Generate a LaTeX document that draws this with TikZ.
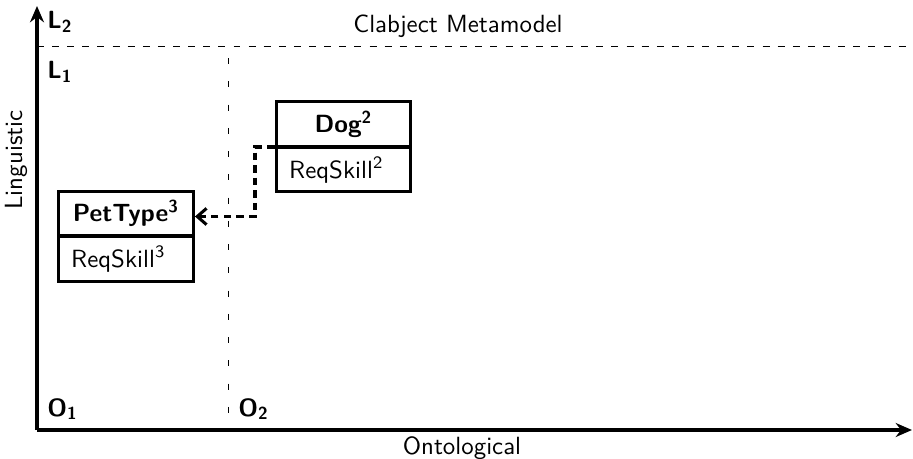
\documentclass[tikz,border=0pt]{standalone}
\usetikzlibrary{arrows.meta}
\usepackage{fixltx2e}
\renewcommand{\familydefault}{\sfdefault}
\newcommand{\myfs}{\fontsize{10.7}{13}\selectfont}
\begin{document}
\begin{tikzpicture}[x=0.43pt,y=-0.43pt,font=\sffamily\myfs,
  axis/.style={line width=1.3pt,-{Stealth[length=7pt,width=6pt]}},
  hdash/.style={line width=0.4pt,dash pattern=on 3pt off 3.5pt},
  vdash/.style={line width=0.4pt,dash pattern=on 2.6pt off 7.4pt},
  box/.style={draw,line width=1.3pt,minimum width=58pt,minimum height=38.3pt,inner sep=0pt},
  conn/.style={line width=1.3pt,dash pattern=on 3.2pt off 2.2pt,-{Straight Barb[length=4pt,width=7pt]}},
  lbl/.style={font=\sffamily\bfseries\myfs,inner sep=0pt}]
\useasboundingbox (0,0) rectangle (913,459);
\coordinate (orig) at (37,430);
\coordinate (ytip) at (37,6);
\coordinate (xtip) at (912,430);
\draw[axis] (orig) -- (ytip);
\draw[axis] (orig) -- (xtip);
\coordinate (h1) at (37,46);
\coordinate (h2) at (913,46);
\draw[hdash] (h1) -- (h2);
\coordinate (v1) at (228,58);
\coordinate (v2) at (228,430);
\draw[vdash] (v1) -- (v2);
\node[lbl,anchor=west] (l2) at (47,22) {L\textsubscript{2}};
\node[lbl,anchor=west] (l1) at (47,72) {L\textsubscript{1}};
\node[lbl,anchor=west] (o1) at (47,409) {O\textsubscript{1}};
\node[lbl,anchor=west] (o2) at (238,409) {O\textsubscript{2}};
\node (meta) at (458,26) {Clabject Metamodel};
\node[rotate=90] (ling) at (16,160) {Linguistic};
\node (onto) at (462,448) {Ontological};
% PetType
\node[box] (pet) at (126,236.5) {};
\draw[line width=1.3pt] (pet.west |- 0,236) coordinate (pd1) -- (pet.east |- 0,236) coordinate (pd2);
\node[font=\sffamily\bfseries\myfs] (pett) at (126,213) {PetType\textsuperscript{3}};
\node[anchor=west] (pets) at (63,259) {ReqSkill\textsuperscript{3}};
% Dog
\node[box] (dog) at (343.5,146.5) {};
\draw[line width=1.3pt] (dog.west |- 0,147) coordinate (dd1) -- (dog.east |- 0,147) coordinate (dd2);
\node[font=\sffamily\bfseries\myfs] (dogt) at (343.5,124) {Dog\textsuperscript{2}};
\node[anchor=west] (dogs) at (281,170) {ReqSkill\textsuperscript{2}};
% connector
\coordinate (pin) at (pet.east |- 0,216.5);
\draw[conn] (dd1) -| (255,216.5) -- (pin);
\end{tikzpicture}
\end{document}
